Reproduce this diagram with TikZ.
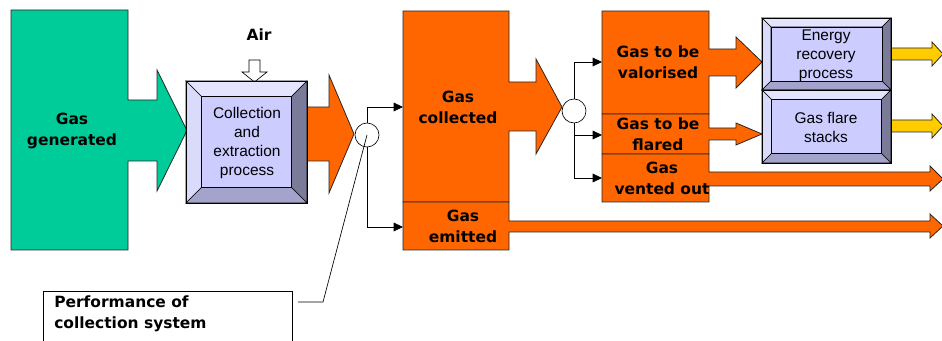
\documentclass[tikz,border=0pt]{standalone}
\usepackage{fontspec}
\setmainfont{Liberation Sans}
\newfontfamily\comicfont{DejaVu Sans}
\usetikzlibrary{arrows.meta}
\definecolor{grn}{HTML}{00CC99}
\definecolor{org}{HTML}{FF6600}
\definecolor{ylw}{HTML}{FFCC00}
\definecolor{lav}{HTML}{CCCCFF}
\definecolor{bvtop}{HTML}{E4E4FF}
\definecolor{bvleft}{HTML}{DADAFA}
\definecolor{bvright}{HTML}{7A7A99}
\definecolor{bvbottom}{HTML}{A3A3CC}
\newcommand\bevelbox[5]{%
  \filldraw[fill=bvtop, draw=black, line width=0.4pt] (#1,#2) -- (#3,#2) -- ({#3-#5},{#2+#5}) -- ({#1+#5},{#2+#5}) -- cycle;
  \filldraw[fill=bvleft, draw=black, line width=0.4pt] (#1,#2) -- ({#1+#5},{#2+#5}) -- ({#1+#5},{#4-#5}) -- (#1,#4) -- cycle;
  \filldraw[fill=bvright, draw=black, line width=0.4pt] (#3,#2) -- ({#3-#5},{#2+#5}) -- ({#3-#5},{#4-#5}) -- (#3,#4) -- cycle;
  \filldraw[fill=bvbottom, draw=black, line width=0.4pt] (#1,#4) -- ({#1+#5},{#4-#5}) -- ({#3-#5},{#4-#5}) -- (#3,#4) -- cycle;
  \filldraw[fill=lav, draw=black, line width=0.6pt] ({#1+#5},{#2+#5}) rectangle ({#3-#5},{#4-#5});
  \draw[line width=0.6pt] (#1,#2) rectangle (#3,#4);
}
\begin{document}
\begin{tikzpicture}[x=0.75pt,y=-0.75pt, line join=miter,
  flow/.style={draw=black!85, line width=0.6pt},
  lbl/.style={font=\comicfont\bfseries\fontsize{11.6}{15.75}\selectfont, align=center, inner sep=0pt},
  boxtxt/.style={font=\fontsize{11.6}{14.25}\selectfont, align=center, inner sep=0pt},
  conn/.style={line width=0.5pt, -{Triangle[length=7pt,width=6.5pt]}},
  ring/.style={circle, draw, line width=0.5pt, minimum size=18pt, inner sep=0pt, fill=white}]
\useasboundingbox (0,0) rectangle (942,341);
\clip (0,0) rectangle (942,341);

% Gas generated
\filldraw[flow, fill=grn] (11,10) -- (128,10) -- (128,100) -- (157,100) -- (157,70) -- (187,130.5) -- (157,191) -- (157,161) -- (128,161) -- (128,250) -- (11,250) -- cycle;
\node[lbl] (gen) at (72,131) {Gas\\generated};

% orange arrow out of collection box
\filldraw[flow, fill=org] (300,107) -- (329,107) -- (329,75) -- (354,134) -- (329,193) -- (329,161) -- (300,161) -- cycle;

% Air arrow
\filldraw[fill=white, draw=black, line width=0.5pt] (249,60) -- (260,60) -- (260,72) -- (267,72) -- (254.5,82) -- (242,72) -- (249,72) -- cycle;
\node[lbl] (air) at (259,35) {Air};

% Collection box
\bevelbox{186}{81}{307}{203}{15.5}
\node[boxtxt] (coll) at (247,143.5) {Collection\\and\\extraction\\process};

% Gas collected + emitted
\filldraw[flow, fill=org] (403,11) -- (509,11) -- (509,82) -- (536,82) -- (536,59) -- (562,107) -- (536,154) -- (536,131) -- (509,131) -- (509,202) -- (403,202) -- cycle;
\filldraw[flow, fill=org] (403,202) -- (509,202) -- (509,221) -- (930,221) -- (930,214) -- (943,226) -- (930,238) -- (930,232) -- (509,232) -- (509,250) -- (403,250) -- cycle;
\node[lbl] (collected) at (458,107) {Gas\\collected};
\node[lbl] (emitted) at (463,226.5) {Gas\\emitted};

% right column
\filldraw[flow, fill=org] (602,11) -- (709,11) -- (709,49) -- (736,49) -- (736,37) -- (762,62) -- (736,88) -- (736,76) -- (709,76) -- (709,114) -- (602,114) -- cycle;
\filldraw[flow, fill=org] (602,114) -- (709,114) -- (709,128) -- (736,128) -- (736,123) -- (762,134) -- (736,145) -- (736,140) -- (709,140) -- (709,154) -- (602,154) -- cycle;
\filldraw[flow, fill=org] (602,154) -- (709,154) -- (709,172) -- (930,172) -- (930,166) -- (943,179) -- (930,191) -- (930,186) -- (709,186) -- (709,202) -- (602,202) -- cycle;
\node[lbl] (valor) at (658,62.5) {Gas to be\\valorised};
\node[lbl] (flared) at (658,134.5) {Gas to be\\flared};
\node[lbl] (vented) at (662,178.5) {Gas\\vented out};

% yellow arrows
\filldraw[flow, fill=ylw] (885,48) -- (932,48) -- (932,42) -- (943,54) -- (932,66) -- (932,60) -- (885,60) -- cycle;
\filldraw[flow, fill=ylw] (885,120) -- (932,120) -- (932,114) -- (943,126) -- (932,138) -- (932,132) -- (885,132) -- cycle;

% Energy recovery and flare boxes
\bevelbox{762}{18}{891}{90}{9}
\bevelbox{762}{90}{891}{163}{9.5}
\node[boxtxt] (energy) at (826,56) {Energy\\recovery\\process};
\node[boxtxt] (flare) at (826,127.5) {Gas flare\\stacks};

% junction rings and connectors
\node[ring] (c1) at (367,135) {};
\node[ring] (c2) at (574,111) {};
\coordinate (inColl) at (403,107);
\coordinate (inEmit) at (403,227);
\coordinate (inVal) at (602,62);
\coordinate (inFlr) at (602,135);
\coordinate (inVent) at (602,178);
\draw[conn] (c1.north) |- (inColl);
\draw[conn] (c1.south) |- (inEmit);
\draw[conn] (c2.north) |- (inVal);
\draw[conn] (c2.south) |- (inVent);
\draw[conn] (c2 |- inFlr) -- (inFlr);

% Performance box and leader
\draw[line width=0.5pt] (43,291) rectangle (292,360);
\node[lbl, align=left, anchor=west] (perf) at (54,313.5) {Performance of\\collection system};
\coordinate (lead1) at (323,302);
\coordinate (lead2) at (298,302);
\draw[line width=0.5pt] (c1.center) -- (lead1) -- (lead2);
\end{tikzpicture}
\end{document}
